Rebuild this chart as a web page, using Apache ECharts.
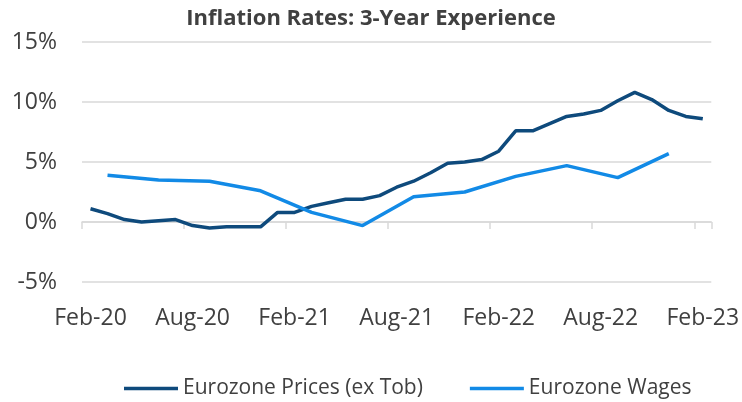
<!DOCTYPE html>
<html>
<head>
<meta charset="utf-8">
<script src="https://cdn.jsdelivr.net/npm/echarts@6/dist/echarts.min.js"></script>
<style>html,body{margin:0;padding:0;background:#fff}#c{width:742px;height:402px}</style>
</head>
<body>
<div id="c"></div>
<script>
var months = ['Feb-20','Mar-20','Apr-20','May-20','Jun-20','Jul-20','Aug-20','Sep-20','Oct-20','Nov-20','Dec-20','Jan-21',
  'Feb-21','Mar-21','Apr-21','May-21','Jun-21','Jul-21','Aug-21','Sep-21','Oct-21','Nov-21','Dec-21','Jan-22',
  'Feb-22','Mar-22','Apr-22','May-22','Jun-22','Jul-22','Aug-22','Sep-22','Oct-22','Nov-22','Dec-22','Jan-23','Feb-23'];
var prices = [1.1,0.7,0.2,0.0,0.1,0.2,-0.3,-0.5,-0.4,-0.4,-0.4,0.8,
  0.8,1.3,1.6,1.9,1.9,2.2,2.9,3.4,4.1,4.9,5.0,5.2,
  5.9,7.6,7.6,8.2,8.8,9.0,9.3,10.1,10.8,10.2,9.3,8.8,8.6];
var wages = [null,3.9,null,null,3.5,null,null,3.4,null,null,2.6,null,
  null,0.8,null,null,-0.3,null,null,2.1,null,null,2.5,null,
  null,3.8,null,null,4.7,null,null,3.7,null,null,5.7,null,null];
var yTicks = [-5,0,5,10,15];
var seriesNames = ['Eurozone Prices (ex Tob)','Eurozone Wages'];

var chart = echarts.init(document.getElementById('c'));
var txt = '#404040';
var font = 'Open Sans';
chart.setOption({
  animation:false,
  title:{text:'Inflation Rates: 3-Year Experience',left:'center',top:3,
    textStyle:{fontFamily:font,fontWeight:'bold',fontSize:22,color:txt}},
  grid:{left:82,right:26,top:42,bottom:120},
  legend:{top:373,left:119,itemWidth:54,itemHeight:3.5,itemGap:47,icon:'rect',
    textStyle:{fontFamily:font,fontSize:21,color:txt},data:seriesNames},
  xAxis:[{type:'category',data:months,boundaryGap:true,position:'bottom',
    axisLine:{onZero:true,lineStyle:{color:'#d9d9d9',width:1.5}},
    axisTick:{show:true,interval:5,length:7,lineStyle:{color:'#d9d9d9',width:1.5}},
    axisLabel:{show:false},splitLine:{show:false}},
   {type:'category',data:months,boundaryGap:true,position:'bottom',
    axisLine:{show:false,onZero:false},axisTick:{show:false},
    axisLabel:{interval:5,margin:25,fontFamily:font,fontSize:23,color:txt},splitLine:{show:false}}],
  yAxis:{type:'value',min:yTicks[0],max:yTicks[yTicks.length-1],interval:5,
    axisLine:{show:false},axisTick:{show:false},
    axisLabel:{margin:25,fontFamily:font,fontSize:23,color:txt,formatter:function(v){return v+'%';}},
    splitLine:{lineStyle:{color:'#d9d9d9',width:1.5}}},
  series:[
    {name:seriesNames[0],type:'line',data:prices,xAxisIndex:0,showSymbol:false,symbol:'none',
      lineStyle:{width:3.5,color:'#0E4A7C'},itemStyle:{color:'#0E4A7C'}},
    {name:seriesNames[1],type:'line',data:wages,xAxisIndex:0,connectNulls:true,showSymbol:false,symbol:'none',
      lineStyle:{width:3.5,color:'#128AE6'},itemStyle:{color:'#128AE6'}}
  ]
});
</script>
</body>
</html>
